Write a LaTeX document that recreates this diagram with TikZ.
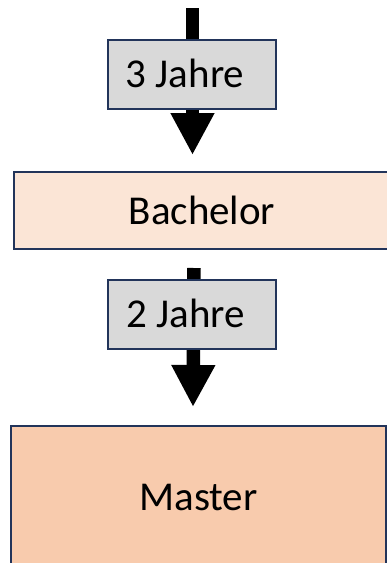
\documentclass[tikz,border=0pt]{standalone}
\usepackage{fontspec}
\setmainfont{Carlito}
\usetikzlibrary{arrows.meta,backgrounds}
\definecolor{edgeblue}{HTML}{22345A}
\definecolor{durgray}{HTML}{D9D9D9}
\definecolor{bachfill}{HTML}{FBE5D6}
\definecolor{mastfill}{HTML}{F8CBAD}
\tikzset{
  box/.style={draw=edgeblue, line width=2pt, inner sep=0pt, anchor=north west},
  durbox/.style={box, fill=durgray},
  label text/.style={anchor=base, inner sep=0pt, font=\fontsize{41}{41}\selectfont},
  bigarrow/.style={line width=13.5pt, -{Triangle[length=42pt,width=41pt]}}
}
\begin{document}
\begin{tikzpicture}[x=1pt,y=-1pt]
\useasboundingbox (0,0) rectangle (387,563);
\clip (0,0) rectangle (387,563);
% duration boxes
\node[durbox, minimum width=168pt, minimum height=69pt] (g1) at (107,39) {};
\node[label text] (g1t) at (185,87) {3 Jahre};
\node[durbox, minimum width=168pt, minimum height=69pt] (g2) at (107,279) {};
\node[label text] (g2t) at (185.5,327) {2 Jahre};
% degree boxes
\node[box, fill=bachfill, minimum width=390pt, minimum height=77pt] (bach) at (13,171) {};
\node[label text] (bacht) at (202,224) {Bachelor};
\node[box, fill=mastfill, minimum width=375pt, minimum height=160pt] (mast) at (10,425) {};
\node[label text] (mastt) at (198.5,510) {Master};
% arrows behind the duration boxes
\coordinate (s1) at (192.5,8);
\coordinate (e1) at (192.5,155);
\coordinate (s2) at (194,268);
\coordinate (e2) at (193,407);
\begin{scope}[on background layer]
\draw[bigarrow] (s1) -- (e1);
\draw[bigarrow] (s2) -- (e2);
\end{scope}
\end{tikzpicture}
\end{document}
